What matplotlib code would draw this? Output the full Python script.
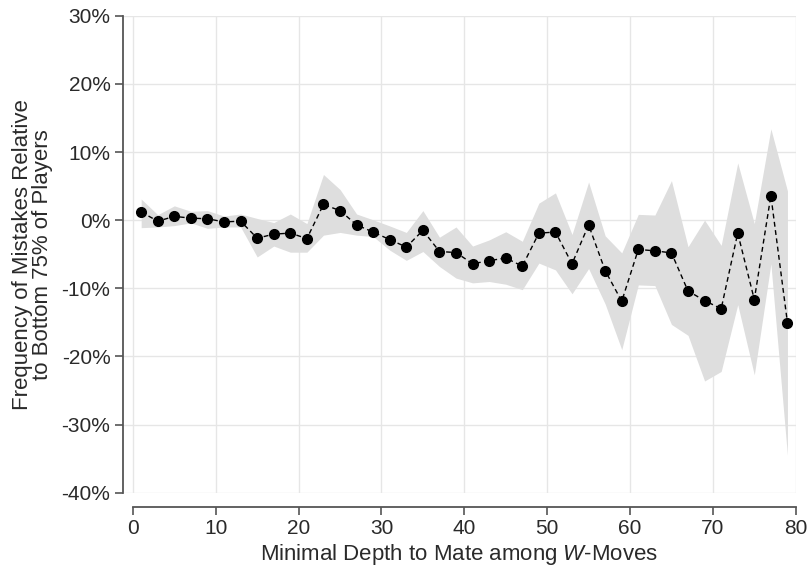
import numpy as np
import matplotlib
matplotlib.use("Agg")
import matplotlib.pyplot as plt
from matplotlib.ticker import FuncFormatter

plt.rcParams['font.family'] = ['Liberation Sans', 'DejaVu Sans']
plt.rcParams['mathtext.fontset'] = 'custom'
plt.rcParams['mathtext.rm'] = 'Liberation Sans'
plt.rcParams['mathtext.it'] = 'Liberation Sans:italic'

# depth to mate (odd values 1..79)
depth = [1, 3, 5, 7, 9, 11, 13, 15, 17, 19, 21, 23, 25, 27, 29, 31, 33, 35, 37, 39,
         41, 43, 45, 47, 49, 51, 53, 55, 57, 59, 61, 63, 65, 67, 69, 71, 73, 75, 77, 79]

# relative frequency of mistakes (%)
estimate = [1.2, -0.15, 0.55, 0.3, 0.2, -0.25, -0.15, -2.65, -2.05, -1.9,
            -2.7, 2.3, 1.4, -0.7, -1.75, -2.85, -3.95, -1.5, -4.6, -4.75,
            -6.4, -5.95, -5.55, -6.75, -1.9, -1.75, -6.4, -0.7, -7.4, -11.9,
            -4.3, -4.5, -4.8, -10.4, -11.8, -13.0, -1.9, -11.65, 3.6, -15.05]

ci_upper = [3.1, 0.8, 2.1, 1.3, 1.4, 0.6, 0.9, 0.25, -0.35, 0.9,
            -0.5, 6.7, 4.5, 0.9, 0.05, -0.85, -1.8, 1.4, -2.5, -1.0,
            -3.8, -2.9, -1.7, -3.1, 2.5, 4.0, -2.1, 5.6, -2.3, -4.8,
            0.85, 0.75, 5.8, -3.9, 0.0, -3.7, 8.4, -0.5, 13.4, 4.3]

ci_lower = [-1.1, -1.0, -0.8, -0.4, -1.2, -1.0, -1.0, -5.4, -3.8, -4.7,
            -4.7, -2.2, -1.8, -2.2, -2.4, -4.4, -5.9, -4.6, -6.8, -8.5,
            -9.2, -9.0, -9.4, -10.2, -6.3, -7.3, -10.8, -7.1, -12.3, -19.0,
            -9.5, -9.6, -15.3, -16.9, -23.6, -22.2, -12.4, -22.7, -6.4, -34.5]

fig = plt.figure(figsize=(8.09, 5.71), dpi=100)
ax = fig.add_axes([0.152, 0.137, 0.8316, 0.8355])

ax.fill_between(depth, ci_lower, ci_upper, color='#dedede', linewidth=0, zorder=1)
ax.plot(depth, estimate, color='black', linestyle=(0, (3.5, 2.5)), linewidth=1.0, zorder=2)
ax.plot(depth, estimate, 'o', color='black', markersize=7, zorder=3)

ax.set_xlim(-1.2, 80)
ax.set_ylim(-40, 30)
ax.set_xticks(np.arange(0, 81, 10))
ax.set_yticks(np.arange(-40, 31, 10))
ax.yaxis.set_major_formatter(FuncFormatter(lambda v, p: f"{v:.0f}%"))

ax.grid(True, color='#e6e6e6', linewidth=1.0, zorder=0)
ax.set_axisbelow(True)

for s in ['top', 'right']:
    ax.spines[s].set_visible(False)
ax.spines['bottom'].set_position(('outward', 10))
ax.spines['bottom'].set_bounds(0, 80)
for s in ['left', 'bottom']:
    ax.spines[s].set_color('#555555')
    ax.spines[s].set_linewidth(1.3)

ax.tick_params(axis='both', colors='#555555', length=6, width=1.2, labelsize=15,
               labelcolor='#2a2a2a', pad=3)

ax.set_xlabel('Minimal Depth to Mate among $\\it{W}$-Moves', fontsize=16, color='#2a2a2a', labelpad=3)
ax.set_ylabel('Frequency of Mistakes Relative\nto Bottom 75% of Players', fontsize=16,
              color='#2a2a2a', labelpad=6, linespacing=0.95)

fig.savefig('out.png', dpi=100)
